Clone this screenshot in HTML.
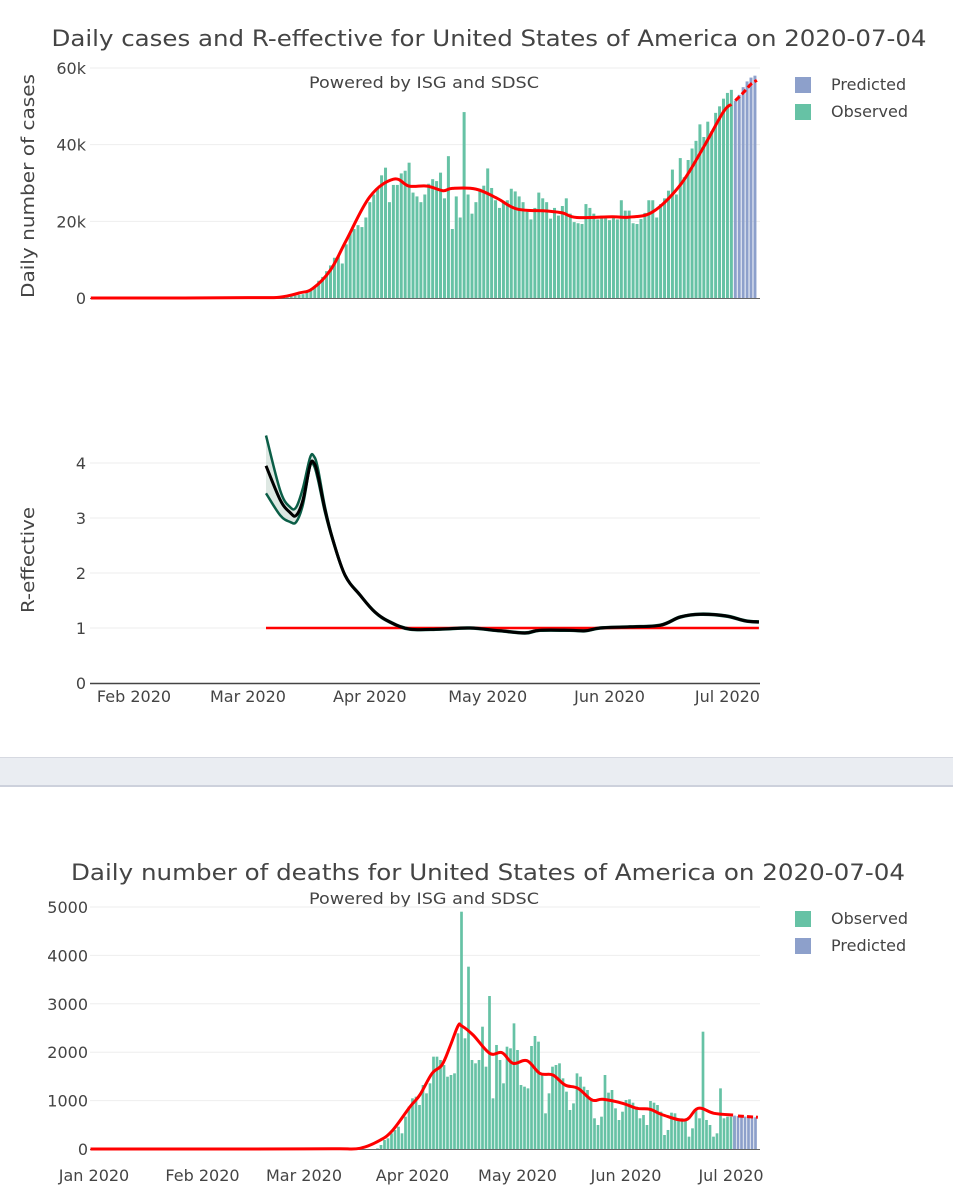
<!DOCTYPE html>
<html><head><meta charset="utf-8"><style>
html,body{margin:0;padding:0;background:#fff;}
svg{display:block;font-family:"DejaVu Sans","Liberation Sans",sans-serif;}
text{fill:#444;}
</style></head><body>
<svg id="svg" width="953" height="1200" viewBox="0 0 953 1200" xmlns="http://www.w3.org/2000/svg">
<rect x="0" y="757" width="953" height="30" fill="#eaedf2"/>
<line x1="0" y1="757.5" x2="953" y2="757.5" stroke="#d6d9e1"/>
<line x1="0" y1="786" x2="953" y2="786" stroke="#cdd1dc" stroke-width="2"/>
<text x="489" y="46" text-anchor="middle" font-size="22" textLength="875" lengthAdjust="spacingAndGlyphs">Daily cases and R-effective for United States of America on 2020-07-04</text>
<text x="424" y="88" text-anchor="middle" font-size="16" textLength="230" lengthAdjust="spacingAndGlyphs">Powered by ISG and SDSC</text>
<text transform="translate(34,186) rotate(-90)" text-anchor="middle" font-size="18" textLength="224" lengthAdjust="spacingAndGlyphs">Daily number of cases</text>
<text transform="translate(34,560) rotate(-90)" text-anchor="middle" font-size="18" textLength="106" lengthAdjust="spacingAndGlyphs">R-effective</text>
<text x="488" y="880" text-anchor="middle" font-size="22" textLength="834" lengthAdjust="spacingAndGlyphs">Daily number of deaths for United States of America on 2020-07-04</text>
<text x="424" y="904" text-anchor="middle" font-size="16" textLength="230" lengthAdjust="spacingAndGlyphs">Powered by ISG and SDSC</text>
<g id="legend1">
<rect x="795" y="77" width="16" height="16" fill="#8da0cb"/>
<text x="831" y="90" font-size="16">Predicted</text>
<rect x="795" y="104" width="16" height="16" fill="#66c2a5"/>
<text x="831" y="117" font-size="16">Observed</text>
</g>
<g id="legend2">
<rect x="795" y="911" width="16" height="16" fill="#66c2a5"/>
<text x="831" y="924" font-size="16">Observed</text>
<rect x="795" y="938" width="16" height="16" fill="#8da0cb"/>
<text x="831" y="951" font-size="16">Predicted</text>
</g>
<g id="g1"></g>
<g id="g2"></g>
<g id="g3"></g>
</svg>
<script>
// ---- data (days are day-of-year 2020, Jan 1 = 0) ----
const casesObsStartDay = 60;
const casesObserved = [0.02,0.03,0.05,0.06,0.07,0.1,0.12,0.15,0.2,0.3,0.4,0.5,0.7,0.8,1.0,1.5,2.0,3.0,4.5,5.5,7,8.5,10.5,11,9,14,17,18,19,18.5,21,25,27,28.5,32,34,
25,29.5,29.5,32.5,33.2,35.3,27.5,26.5,25,27,29.8,31,30.5,32.7,26,37,18,26.5,21,48.5,
27,22,25,28.5,29.3,33.8,28.7,25.5,23.5,24.8,25.5,28.5,27.8,26.5,25,22.5,20.5,23.5,
27.5,26,25,20.7,23.5,21.5,24,26,22,19.8,19.5,19.3,24.5,23.5,22,20.5,21.5,21,20.3,
21.5,20.5,25.5,22.8,22.8,19.5,19.3,20.6,22.2,25.5,25.5,21,24.5,26,28,33.5,27,36.5,
31.5,36,39,41,45.3,42,46,43.5,48.3,50,52,53.5,54.3];
const casesPredStartDay = 184;
const casesPredicted = [51.5,53,55,56.5,57.5,58];
const casesSmoothDays = [20,40,60,68,73,76.5,81,85,91,97,101,105.6,109.6,112,118,123.4,128.5,136,140,143.7,152.7,157,163,170,176,181,183];
const casesSmoothVals = [0,0,0.1,0.2,1.3,2.5,7.3,15,26.4,31,29.2,29.2,28,28.6,28.4,26,23.2,22.7,22.2,21,21.2,21.1,22.5,29.5,39.5,48.6,50.5];
const casesPredSmoothDays = [184,186,188,189.5];
const casesPredSmoothVals = [51.5,53.5,55.8,56.8];
const casesTicks = [0,20,40,60];
const casesTickLabels = ["0","20k","40k","60k"];

const rDays = [64.6,68.2,70.7,72.3,74,75.8,76.8,77.8,79.6,81.6,84.7,88.5,92.3,96.1,101.2,108.8,116.5,124.1,130.5,134.3,141.9,145.8,149.6,157.2,164.9,170,175.1,181.5,186.6,190];
const rCenter = [3.95,3.33,3.1,3.05,3.33,3.96,4.0,3.78,3.15,2.6,1.96,1.6,1.29,1.11,0.98,0.98,1.0,0.95,0.91,0.96,0.96,0.95,1.0,1.02,1.05,1.2,1.25,1.22,1.13,1.11];
const rUpper = [4.5,3.5,3.2,3.2,3.55,4.1,4.12,3.9,3.2,2.62,1.97,1.61,1.3,1.12,0.99,0.99,1.01,0.96,0.92,0.97,0.97,0.96,1.01,1.03,1.06,1.21,1.26,1.23,1.14,1.12];
const rLower = [3.45,3.05,2.93,2.93,3.25,3.95,3.95,3.7,3.1,2.58,1.95,1.59,1.28,1.1,0.97,0.97,0.99,0.94,0.9,0.95,0.95,0.94,0.99,1.01,1.04,1.19,1.24,1.21,1.12,1.1];
const rThresholdDays = [64.6,190];
const rThreshold = [1,1];
const rTicks = [0,1,2,3,4];
const monthDays1 = [31,60,91,121,152,182];
const monthLabels1 = ["Feb 2020","Mar 2020","Apr 2020","May 2020","Jun 2020","Jul 2020"];

const deathsObsStartDay = 81;
const deathsObserved = [14,83,186,220,324,393,461,324,668,875,1047,1081,909,1322,1150,1357,1908,1908,1839,1735,1494,1529,1563,2390,4903,2287,3767,1839,1770,1839,2527,1701,3161,1047,2149,1839,1357,2114,2080,2596,2045,1322,1288,1253,2128,2335,2218,1529,737,1150,1701,1735,1770,1460,1185,806,943,1563,1494,1288,1219,1047,634,496,668,1529,1164,1219,840,599,771,1012,1026,957,875,634,702,496,992,957,909,771,289,393,751,737,599,634,599,255,427,806,634,2424,599,496,255,324,1253,634,668,668,668];
const deathsPredStartDay = 183;
const deathsPredicted = [690,680,675,670,665,660,655];
const deathsSmoothDays = [-1,30,60,70,76,81.7,85.4,90.3,93.1,96.6,99.4,101.7,104,105.1,108.3,113.1,116.6,119.7,123.7,127.4,131.1,134.6,138.3,142.3,145.4,151.1,155.1,158.9,162.6,168.9,172.6,177.1,182.6];
const deathsSmoothVals = [0,0,3,6,14,179,393,875,1116,1563,1735,2114,2541,2541,2355,1976,1990,1770,1825,1563,1529,1322,1253,1012,1026,943,840,820,702,599,840,737,702];
const deathsPredSmoothDays = [184,189.7];
const deathsPredSmoothVals = [682,655];
const deathsTicks = [0,1000,2000,3000,4000,5000];
const monthDays2 = [0,31,60,91,121,152,182];
const monthLabels2 = ["Jan 2020","Feb 2020","Mar 2020","Apr 2020","May 2020","Jun 2020","Jul 2020"];

// ---- axes ----
const NS = "http://www.w3.org/2000/svg";
const xTop = d => 134 + (d - 31) * 3.93;
const yCases = v => 298 - v * 230 / 60;
const yR = v => 683 - v * 55;
const xBot = d => 94 + d * 3.5;
const yDeaths = v => 1149 - v * 48.4 / 1000;
function mk(tag, attrs, parent) {
  const e = document.createElementNS(NS, tag);
  for (const k in attrs) e.setAttribute(k, attrs[k]);
  parent.appendChild(e);
  return e;
}
function pts(days, vals, fx, fy) { return days.map((d, i) => [fx(d), fy(vals[i])]); }
function smooth(p, start) {
  let s = (start ? "M" : "L") + p[0][0].toFixed(1) + "," + p[0][1].toFixed(1);
  for (let i = 0; i < p.length - 1; i++) {
    const p0 = p[Math.max(0, i - 1)], p1 = p[i], p2 = p[i + 1], p3 = p[Math.min(p.length - 1, i + 2)];
    const t = 0.18;
    const c1 = [p1[0] + (p2[0] - p0[0]) * t, p1[1] + (p2[1] - p0[1]) * t];
    const c2 = [p2[0] - (p3[0] - p1[0]) * t, p2[1] - (p3[1] - p1[1]) * t];
    s += "C" + c1.map(v => v.toFixed(1)).join(",") + " " + c2.map(v => v.toFixed(1)).join(",") + " " + p2[0].toFixed(1) + "," + p2[1].toFixed(1);
  }
  return s;
}
function pathOf(days, vals, fx, fy) { return smooth(pts(days, vals, fx, fy), true); }
const g1 = document.getElementById("g1"), g2 = document.getElementById("g2"), g3 = document.getElementById("g3");

// cases chart
casesTicks.forEach((t, i) => {
  if (t > 0) {
    const gl = mk("line", {x1: 90, x2: 760, y1: yCases(t), y2: yCases(t), stroke: "#eee"}, g1);
    
    
  }
  const tx = mk("text", {x: 86, y: yCases(t) + 6, "text-anchor": "end", "font-size": 16}, g1);
  tx.textContent = casesTickLabels[i];
  
  
});
casesObserved.forEach((v, i) => {
  const d = casesObsStartDay + i;
  const r = mk("rect", {x: xTop(d) - 1.5, y: yCases(v), width: 3, height: 298 - yCases(v), fill: "#66c2a5"}, g1);
  
  
});
casesPredicted.forEach((v, i) => {
  const d = casesPredStartDay + i;
  const r = mk("rect", {x: xTop(d) - 1.5, y: yCases(v), width: 3, height: 298 - yCases(v), fill: "#8da0cb"}, g1);
  
  
});
const cz = mk("line", {x1: 90, x2: 760, y1: 298.5, y2: 298.5, stroke: "#666", "stroke-width": 1}, g1);


const cs = mk("path", {d: pathOf(casesSmoothDays, casesSmoothVals, xTop, yCases), fill: "none", stroke: "#ff0000", "stroke-width": 3, "stroke-linejoin": "round"}, g1);


const cp = mk("path", {d: pathOf(casesPredSmoothDays, casesPredSmoothVals, xTop, yCases), fill: "none", stroke: "#ff0000", "stroke-width": 3, "stroke-dasharray": "6,3"}, g1);



// R chart
rTicks.forEach(t => {
  if (t > 0) {
    const gl = mk("line", {x1: 90, x2: 760, y1: yR(t), y2: yR(t), stroke: "#eee"}, g2);
    
    
  }
  const tx = mk("text", {x: 86, y: yR(t) + 6, "text-anchor": "end", "font-size": 16}, g2);
  tx.textContent = String(t);
  
  
});
const upPts = pts(rDays, rUpper, xTop, yR);
const loPts = pts(rDays, rLower, xTop, yR).reverse();
const bandD = smooth(upPts, true) + smooth(loPts, false) + "Z";
const band = mk("path", {d: bandD, fill: "rgba(160,190,175,0.35)", stroke: "none"}, g2);


const up = mk("path", {d: pathOf(rDays, rUpper, xTop, yR), fill: "none", stroke: "#0b5e47", "stroke-width": 2.5}, g2);


const lo = mk("path", {d: pathOf(rDays, rLower, xTop, yR), fill: "none", stroke: "#0b5e47", "stroke-width": 2.5}, g2);


const th = mk("path", {d: pathOf(rThresholdDays, rThreshold, xTop, yR), fill: "none", stroke: "#ff0000", "stroke-width": 2.5}, g2);


const rc = mk("path", {d: pathOf(rDays, rCenter, xTop, yR), fill: "none", stroke: "#000", "stroke-width": 3, "stroke-linejoin": "round"}, g2);


const rx = mk("line", {x1: 90, x2: 760, y1: 683.5, y2: 683.5, stroke: "#444", "stroke-width": 1.5}, g2);


monthDays1.forEach((d, i) => {
  const tx = mk("text", {x: xTop(d), y: 702, "text-anchor": "middle", "font-size": 16}, g2);
  tx.textContent = monthLabels1[i];
  
  
});

// deaths chart
deathsTicks.forEach(t => {
  if (t > 0) {
    const gl = mk("line", {x1: 90, x2: 760, y1: yDeaths(t), y2: yDeaths(t), stroke: "#eee"}, g3);
    
    
  }
  const tx = mk("text", {x: 88, y: yDeaths(t) + 6, "text-anchor": "end", "font-size": 16}, g3);
  tx.textContent = String(t);
  
  
});
deathsObserved.forEach((v, i) => {
  const d = deathsObsStartDay + i;
  const r = mk("rect", {x: xBot(d) - 1.35, y: yDeaths(v), width: 2.7, height: 1149 - yDeaths(v), fill: "#66c2a5"}, g3);
  
  
});
deathsPredicted.forEach((v, i) => {
  const d = deathsPredStartDay + i;
  const r = mk("rect", {x: xBot(d) - 1.35, y: yDeaths(v), width: 2.7, height: 1149 - yDeaths(v), fill: "#8da0cb"}, g3);
  
  
});
const dz = mk("line", {x1: 90, x2: 760, y1: 1149.5, y2: 1149.5, stroke: "#666", "stroke-width": 1}, g3);


const ds = mk("path", {d: pathOf(deathsSmoothDays, deathsSmoothVals, xBot, yDeaths), fill: "none", stroke: "#ff0000", "stroke-width": 3, "stroke-linejoin": "round"}, g3);


const dp = mk("path", {d: pathOf(deathsPredSmoothDays, deathsPredSmoothVals, xBot, yDeaths), fill: "none", stroke: "#ff0000", "stroke-width": 3, "stroke-dasharray": "6,3"}, g3);


monthDays2.forEach((d, i) => {
  const tx = mk("text", {x: xBot(d), y: 1181, "text-anchor": "middle", "font-size": 16}, g3);
  tx.textContent = monthLabels2[i];
  
  
});
</script>
</body></html>
